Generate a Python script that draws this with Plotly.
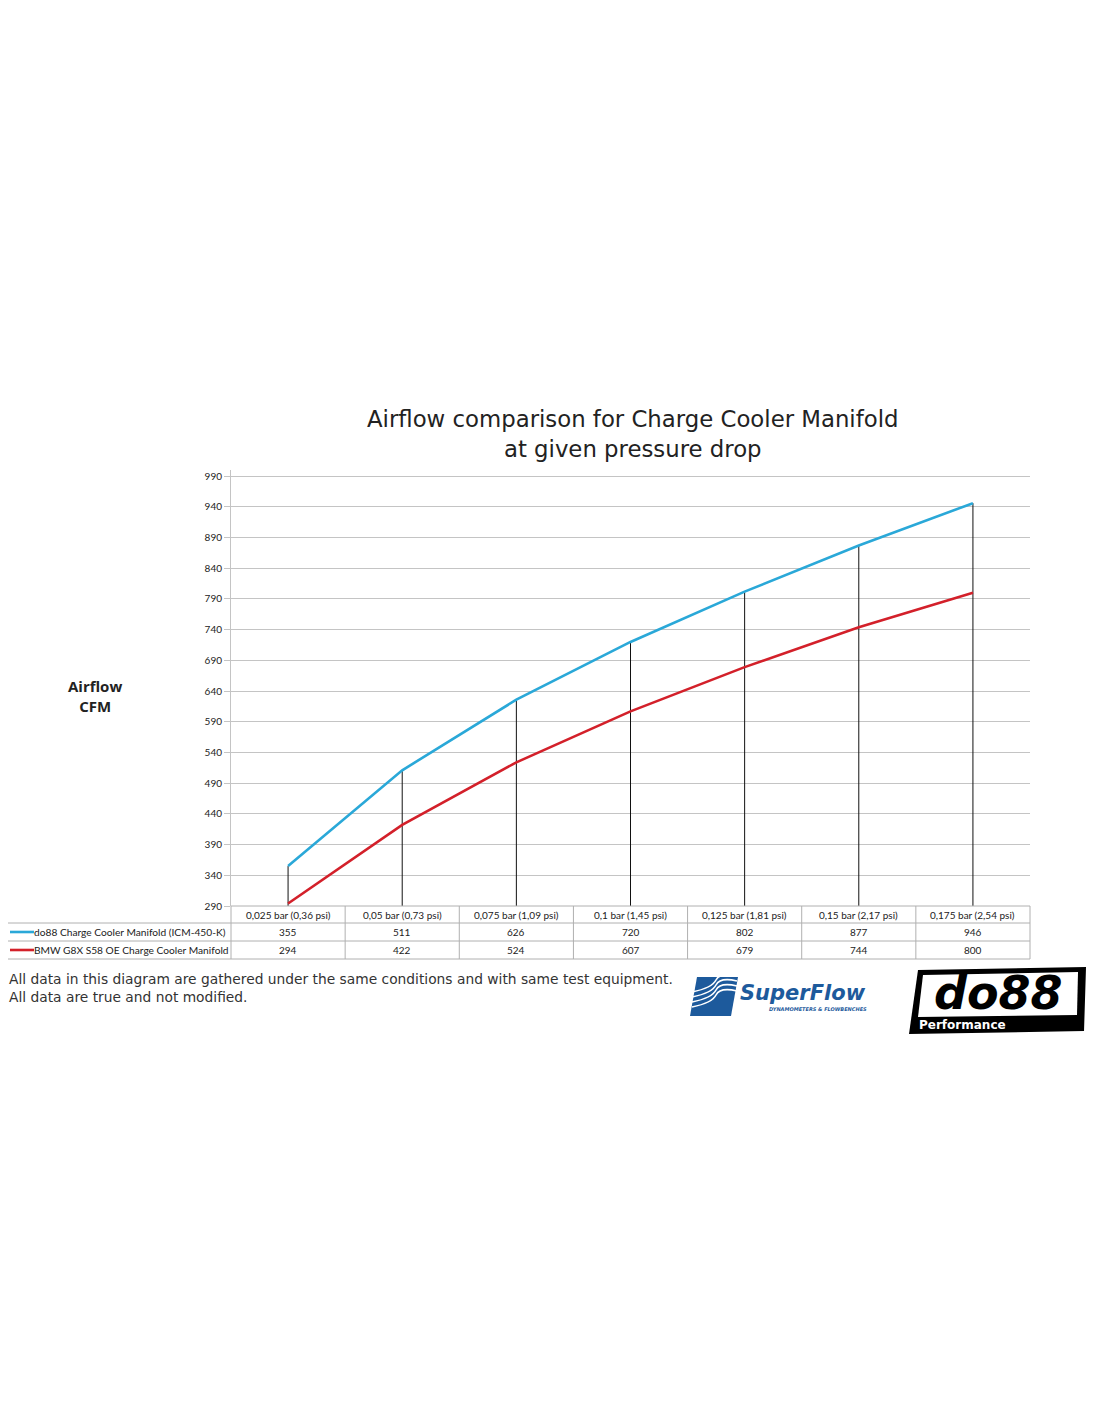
import plotly.graph_objects as go

categories = ["0,025 bar (0,36 psi)", "0,05 bar (0,73 psi)", "0,075 bar (1,09 psi)",
              "0,1 bar (1,45 psi)", "0,125 bar (1,81 psi)", "0,15 bar (2,17 psi)",
              "0,175 bar (2,54 psi)"]
do88_cfm = [355, 511, 626, 720, 802, 877, 946]
oe_cfm = [294, 422, 524, 607, 679, 744, 800]
series_names = ["do88 Charge Cooler Manifold (ICM-450-K)", "BMW G8X S58 OE Charge Cooler Manifold"]
y_ticks = list(range(290, 991, 50))

BLUE = "#2aa8d8"
RED = "#d3202a"
GRID = "#c4c4c4"
TXT = "#222222"
OFF = 8  # page body margin
W, H = 1100 - 2 * OFF, 1422 - 2 * OFF
L, T = 231 - OFF, 470 - OFF
R = W - (1030 - OFF)
B = H - (906 - OFF)
PW, PH = W - L - R, H - T - B


# reference page pixels -> paper coordinates
def px(x):
    return (x - OFF - L) / PW


def py(y):
    return (H - B - (y - OFF)) / PH


fig = go.Figure()

# drop lines from the upper series down to the axis
dx, dy = [], []
for c, v in zip(categories, do88_cfm):
    dx += [c, c, None]
    dy += [y_ticks[0], v, None]
fig.add_trace(go.Scatter(x=dx, y=dy, mode="lines", line=dict(color="#111111", width=1),
                         hoverinfo="skip", showlegend=False))

fig.add_trace(go.Scatter(x=categories, y=do88_cfm, mode="lines", name=series_names[0],
                         line=dict(color=BLUE, width=2.6)))
fig.add_trace(go.Scatter(x=categories, y=oe_cfm, mode="lines", name=series_names[1],
                         line=dict(color=RED, width=2.6)))

fig.update_xaxes(type="category", range=[-0.5, len(categories) - 0.5], showticklabels=False,
                 showgrid=False, zeroline=False, showline=False, ticks="")
fig.update_yaxes(range=[290, 1000], tickvals=y_ticks, showgrid=True, gridcolor=GRID, gridwidth=1,
                 zeroline=False, showline=True, linecolor=GRID, linewidth=1,
                 ticks="outside", ticklen=6, tickcolor=GRID,
                 tickfont=dict(family="Lato, Open Sans", size=10, color=TXT))

shapes = []
ann = []

# data table below the plot
row_y = [906, 923, 941, 959]
n = len(categories)
cw = 799 / n
line_style = dict(color="#b0b0b0", width=1)
shapes.append(dict(type="line", xref="paper", yref="paper", x0=px(231), x1=px(1030),
                   y0=py(906), y1=py(906), line=line_style))
for yy in row_y[1:]:
    shapes.append(dict(type="line", xref="paper", yref="paper", x0=px(6), x1=px(1030),
                       y0=py(yy), y1=py(yy), line=line_style))
for k in range(n + 1):
    shapes.append(dict(type="line", xref="paper", yref="paper", x0=px(231 + k * cw), x1=px(231 + k * cw),
                       y0=py(906), y1=py(959), line=line_style))
shapes.append(dict(type="line", xref="paper", yref="paper", x0=px(6), x1=px(6),
                   y0=py(923), y1=py(959), line=line_style))

tfont = dict(family="Lato, Open Sans", size=10, color=TXT)
for i, c in enumerate(categories):
    ann.append(dict(x=i, xref="x", y=py(914.5), yref="paper", text=c, showarrow=False,
                    font=tfont, xanchor="center", yanchor="middle"))
    ann.append(dict(x=i, xref="x", y=py(932), yref="paper", text=str(do88_cfm[i]), showarrow=False,
                    font=tfont, xanchor="center", yanchor="middle"))
    ann.append(dict(x=i, xref="x", y=py(950), yref="paper", text=str(oe_cfm[i]), showarrow=False,
                    font=tfont, xanchor="center", yanchor="middle"))

for name, col, yy in [(series_names[0], BLUE, 932), (series_names[1], RED, 950)]:
    shapes.append(dict(type="line", xref="paper", yref="paper", x0=px(10), x1=px(34),
                       y0=py(yy), y1=py(yy), line=dict(color=col, width=2.6)))
    ann.append(dict(x=px(34), xref="paper", y=py(yy), yref="paper", text=name, showarrow=False,
                    font=dict(family="Lato, Open Sans", size=10.2, color=TXT),
                    xanchor="left", yanchor="middle", xshift=-2))

# title and y axis label
ann.append(dict(x=px(633), xref="paper", y=py(434), yref="paper",
                text="Airflow comparison for Charge Cooler Manifold<br>at given pressure drop",
                showarrow=False, font=dict(family="DejaVu Sans", size=22.8, color=TXT),
                xanchor="center", yanchor="middle"))
ann.append(dict(x=px(95), xref="paper", y=py(696), yref="paper", text="<b>Airflow<br>CFM</b>",
                showarrow=False, font=dict(family="Open Sans", size=15, color=TXT),
                xanchor="center", yanchor="middle"))

# footer note
ann.append(dict(x=px(7), xref="paper", y=py(988), yref="paper",
                text="All data in this diagram are gathered under the same conditions and with same test equipment.<br>"
                     "All data are true and not modified.",
                showarrow=False, align="left", font=dict(family="DejaVu Sans", size=13.8, color="#333333"),
                xanchor="left", yanchor="middle"))

# SuperFlow logo
SF = "#1d5a9c"
shapes.append(dict(type="path", xref="paper", yref="paper", fillcolor=SF, line=dict(width=0),
                   path=f"M {px(697)},{py(977)} L {px(738)},{py(977)} L {px(731)},{py(1016)} "
                        f"L {px(690)},{py(1016)} Z"))
for k in range(4):
    o = k * 5 - 8
    shapes.append(dict(type="path", xref="paper", yref="paper", line=dict(color="white", width=1.6),
                       path=f"M {px(692)},{py(1000 + o)} Q {px(712)},{py(996 + o)} "
                            f"{px(716)},{py(988 + o)} T {px(737)},{py(984 + o)}"))
ann.append(dict(x=px(738), xref="paper", y=py(993), yref="paper", text="<b><i>SuperFlow</i></b>",
                showarrow=False, font=dict(family="DejaVu Sans", size=21, color=SF),
                xanchor="left", yanchor="middle"))
ann.append(dict(x=px(869), xref="paper", y=py(1008.5), yref="paper",
                text="<b><i>DYNAMOMETERS & FLOWBENCHES</i></b>",
                showarrow=False, font=dict(family="DejaVu Sans", size=5, color=SF),
                xanchor="right", yanchor="middle"))

# do88 logo
shapes.append(dict(type="path", xref="paper", yref="paper", fillcolor="black", line=dict(width=0),
                   path=f"M {px(918)},{py(970)} L {px(1086)},{py(967)} L {px(1084)},{py(1031)} "
                        f"L {px(909)},{py(1034)} Z"))
shapes.append(dict(type="path", xref="paper", yref="paper", fillcolor="white", line=dict(width=0),
                   path=f"M {px(923)},{py(975)} L {px(1078)},{py(972)} L {px(1077)},{py(1015)} "
                        f"L {px(918)},{py(1017)} Z"))
ann.append(dict(x=px(998), xref="paper", y=py(993), yref="paper", text="<b><i>do88</i></b>",
                showarrow=False, font=dict(family="DejaVu Sans", size=46, color="black"),
                xanchor="center", yanchor="middle"))
ann.append(dict(x=px(917), xref="paper", y=py(1025), yref="paper", text="<b>Performance</b>",
                showarrow=False, font=dict(family="DejaVu Sans", size=12, color="white"),
                xanchor="left", yanchor="middle"))

fig.update_layout(width=W, height=H, margin=dict(l=L, r=R, t=T, b=B),
                  paper_bgcolor="white", plot_bgcolor="white", showlegend=False,
                  shapes=shapes, annotations=ann)

fig.write_html("out.html")
